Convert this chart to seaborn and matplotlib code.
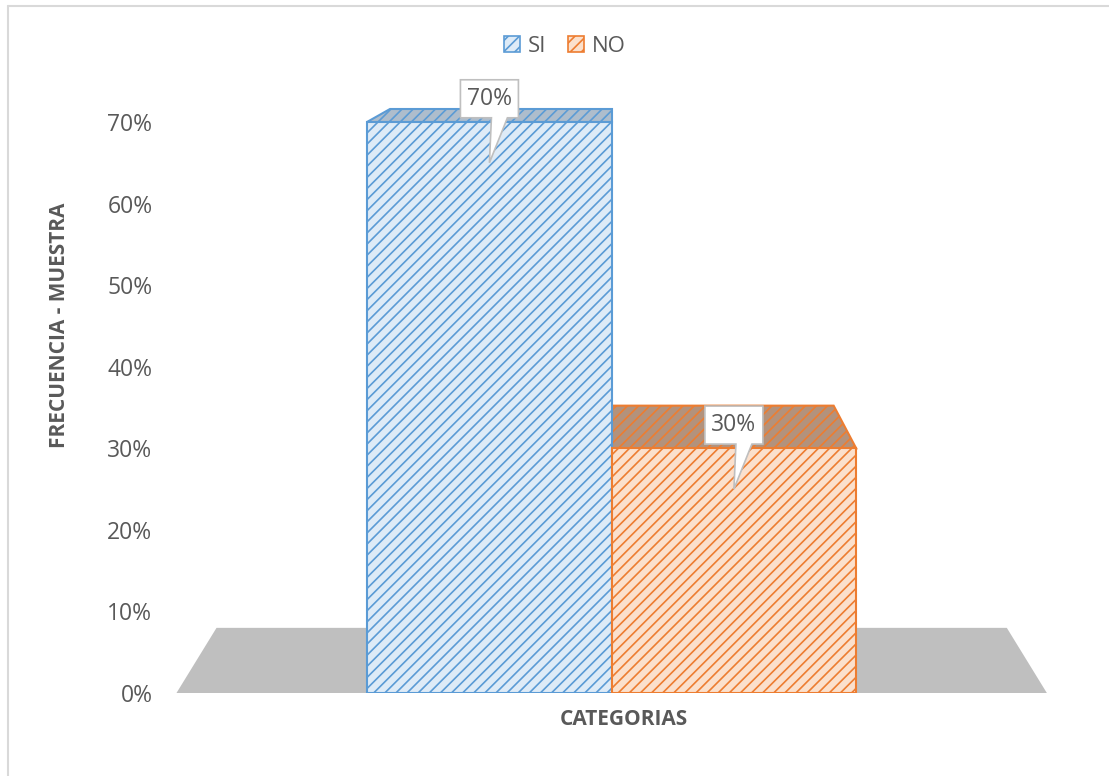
import numpy as np
import pandas as pd
import matplotlib
matplotlib.use("Agg")
import matplotlib.pyplot as plt
import matplotlib.transforms as mtransforms
from matplotlib.patches import Polygon, Patch
from matplotlib.lines import Line2D
import seaborn as sns

# ---- data ----
categorias = ["SI", "NO"]
porcentajes = [0.70, 0.30]
yticks = [0.0, 0.1, 0.2, 0.3, 0.4, 0.5, 0.6, 0.7]
ytick_labels = ["0%", "10%", "20%", "30%", "40%", "50%", "60%", "70%"]
etiquetas = ["70%", "30%"]

# ---- style ----
front_colors = ["#deebf7", "#fbe0cc"]
edge_colors = ["#5b9bd5", "#ed7d31"]
top_colors = ["#aebdcc", "#b3927c"]
text_color = "#595959"

sns.set_theme(style="white")
plt.rcParams["font.family"] = ["Open Sans", "DejaVu Sans"]
plt.rcParams["hatch.linewidth"] = 1.2

fig = plt.figure(figsize=(11.09, 7.76), dpi=100)
fig.patch.set_facecolor("white")

x_lo, x_hi = -1.35, 2.35
ax = fig.add_axes([0.1437, 0.10696, 0.8157, 0.7884])

df = pd.DataFrame({"categoria": categorias, "porcentaje": porcentajes})
sns.barplot(data=df, x="categoria", y="porcentaje", hue="categoria",
            palette=dict(zip(categorias, front_colors)), width=1.0,
            saturation=1, legend=False, ax=ax, zorder=3)

for p, fc, ec in zip(ax.patches, front_colors, edge_colors):
    p.set_facecolor(fc)
    p.set_edgecolor(ec)
    p.set_linewidth(1.5)
    p.set_hatch("///")

ax.set_xlim(x_lo, x_hi)
ax.set_ylim(0, 0.75)

# simple perspective toward a vanishing point
vp = np.array([0.5, 0.868])
k = 0.092

def back(pt):
    pt = np.asarray(pt, dtype=float)
    return pt + k * (vp - pt)

# floor
floor_half = 1.78
fl = [(0.5 - floor_half, 0.0), (0.5 + floor_half, 0.0)]
floor_poly = [fl[0], fl[1], tuple(back(fl[1])), tuple(back(fl[0]))]
ax.add_patch(Polygon(floor_poly, closed=True, facecolor="#bfbfbf",
                     edgecolor="none", zorder=1, clip_on=False))

# top faces
for p, tc, ec in zip(ax.patches[:len(categorias)], top_colors, edge_colors):
    x0 = p.get_x()
    x1 = x0 + p.get_width()
    h = p.get_height()
    fl_pt = (x0, h)
    fr_pt = (x1, h)
    poly = [fl_pt, fr_pt, tuple(back(fr_pt)), tuple(back(fl_pt))]
    ax.add_patch(Polygon(poly, closed=True, facecolor=tc, edgecolor=ec,
                         hatch="///", linewidth=1.5, zorder=2, clip_on=False))

# callouts
def callout(ax, x, y, text):
    tr = fig.dpi_scale_trans + mtransforms.ScaledTranslation(x, y, ax.transData)
    s = 1 / 100.0
    verts = np.array([(0, 0), (18, 45), (29, 45), (29, 83), (-29, 83),
                      (-29, 45), (2, 45)]) * s
    ax.add_patch(Polygon(verts, closed=True, facecolor="white",
                         edgecolor="#bfbfbf", linewidth=1.2,
                         transform=tr, zorder=6, clip_on=False))
    ax.annotate(text, xy=(x, y), xytext=(0, 64 * 0.72),
                textcoords="offset points", ha="center", va="center",
                fontsize=16.5, color=text_color, zorder=7,
                annotation_clip=False)

for p, lab in zip(ax.patches[:len(categorias)], etiquetas):
    cx = p.get_x() + p.get_width() / 2
    callout(ax, cx, p.get_height() - 0.05, lab)

# axes styling
for sp in ax.spines.values():
    sp.set_visible(False)
ax.set_yticks(yticks)
ax.set_yticklabels(ytick_labels)
ax.set_xticks([])
ax.tick_params(axis="y", length=0, pad=5, labelsize=16.5, labelcolor=text_color)
ax.grid(False)
ax.set_ylabel("FRECUENCIA - MUESTRA", fontsize=15, fontweight="bold",
              color=text_color, labelpad=0, va="center")
ax.yaxis.set_label_coords(-0.11, 0.601)
ax.set_xlabel("CATEGORIAS", fontsize=15, fontweight="bold",
              color=text_color, va="center")
ax.xaxis.set_label_coords(0.5135, -0.044)

# legend
handles = [Patch(facecolor=fc, edgecolor=ec, hatch="///", linewidth=1.2)
           for fc, ec in zip(front_colors, edge_colors)]
fig.legend(handles, categorias, loc="center", bbox_to_anchor=(565 / 1109, 1 - 46 / 776),
           ncol=2, frameon=False, fontsize=16, labelcolor=text_color,
           handlelength=0.7, handleheight=0.7, handletextpad=0.35,
           columnspacing=1.0)

# chart area border (left and top edges visible)
fig.add_artist(Line2D([8 / 1109, 8 / 1109], [0, 1 - 6 / 776],
                      transform=fig.transFigure, color="#d9d9d9", lw=1.5))
fig.add_artist(Line2D([8 / 1109, 1], [1 - 6 / 776, 1 - 6 / 776],
                      transform=fig.transFigure, color="#d9d9d9", lw=1.5))

fig.savefig("out.png", dpi=100, facecolor="white")
